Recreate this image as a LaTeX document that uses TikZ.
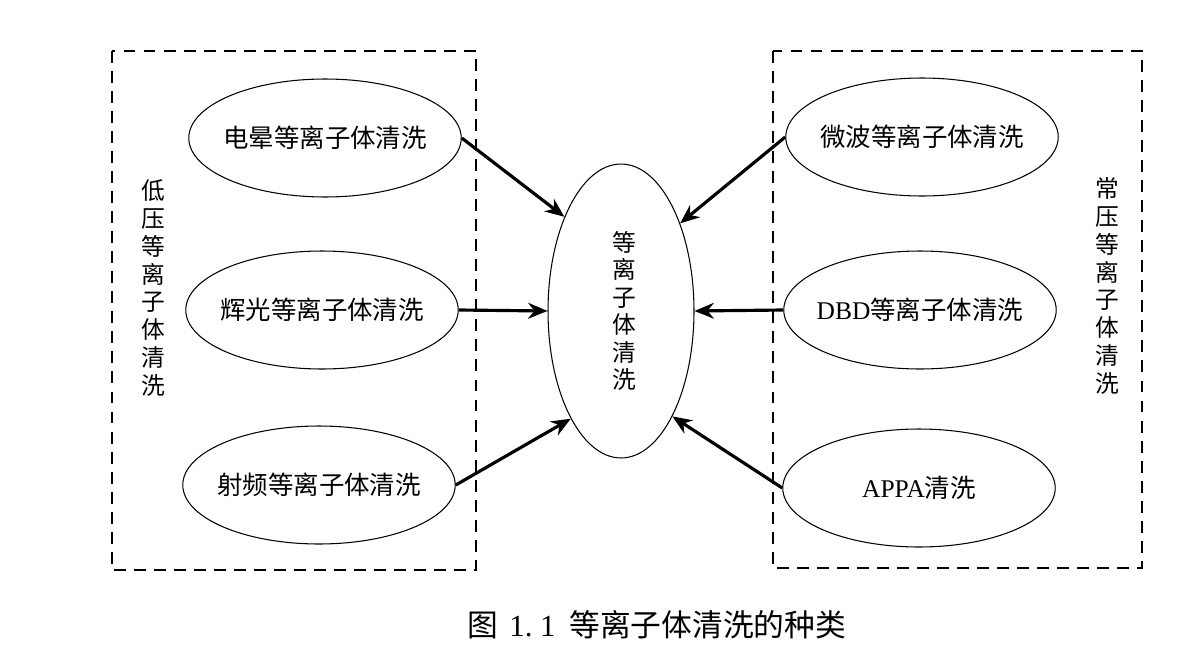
\documentclass[tikz,border=0pt]{standalone}
\usepackage{fontspec}
\setmainfont{Liberation Serif}
\newfontfamily\cjk{Noto Sans CJK SC}
\usepackage{tikz}
\usetikzlibrary{arrows.meta, shapes.geometric}

\begin{document}
\begin{tikzpicture}[x=0.02cm, y=-0.02cm]
    \tikzstyle{oval}=[draw, ellipse, line width=0.6pt, inner sep=0pt, minimum width=5.45cm, minimum height=2.36cm, font=\fontsize{14.5}{16}\selectfont];
    \tikzstyle{group}=[draw, line width=0.9pt, dash pattern=on 6.8pt off 4.6pt];
    \tikzstyle{vlabel}=[text width=1em, align=center, inner sep=0pt, font=\cjk\fontsize{13.5}{15.8}\selectfont];
    \tikzstyle{flow}=[line width=1.8pt, -{Stealth[length=11pt, width=9pt]}];

    \useasboundingbox (0,0) rectangle (1190,649);

    % dashed groups
    \draw[group] (112,51) rectangle (476,570);
    \draw[group] (773,51) rectangle (1142,568);

    \node[vlabel] (low) at (150,288) {低\\压\\等\\离\\子\\体\\清\\洗};
    \node[vlabel] (atm) at (1104,286) {常\\压\\等\\离\\子\\体\\清\\洗};

    % centre
    \node[draw, ellipse, line width=0.6pt, inner sep=0pt, minimum width=2.92cm, minimum height=5.88cm] (c) at (621,311) {};
    \node[vlabel, font=\cjk\fontsize{13.5}{15.6}\selectfont] at (621,311) {等\\离\\子\\体\\清\\洗};

    % low pressure
    \node[oval] (l1) at (325,138) {\makebox[0pt]{\cjk 电晕等离子体清洗}};
    \node[oval] (l2) at (322,310) {\makebox[0pt]{\cjk 辉光等离子体清洗}};
    \node[oval] (l3) at (319,485) {\makebox[0pt]{\cjk 射频等离子体清洗}};

    % atmospheric
    \node[oval] (r1) at (922,137) {\makebox[0pt]{\cjk 微波等离子体清洗}};
    \node[oval] (r2) at (920,310) {\makebox[0pt]{DBD{\cjk 等离子体清洗}}};
    \node[oval] (r3) at (919,488) {\makebox[0pt]{APPA{\cjk 清洗}}};

    \foreach \s/\a in {l1/121, l2/180, l3/245} {
        \draw[flow] (\s.east) -- (c.\a);
    }
    \foreach \s/\a in {r1/56, r2/0, r3/296} {
        \draw[flow] (\s.west) -- (c.\a);
    }

    \node[font=\fontsize{17.5}{20}\selectfont] (cap) at (657,625) {{\cjk 图}\hspace{0.35em}1.\hspace{0.25em}1\hspace{0.45em}{\cjk 等离子体清洗的种类}};
\end{tikzpicture}
\end{document}
